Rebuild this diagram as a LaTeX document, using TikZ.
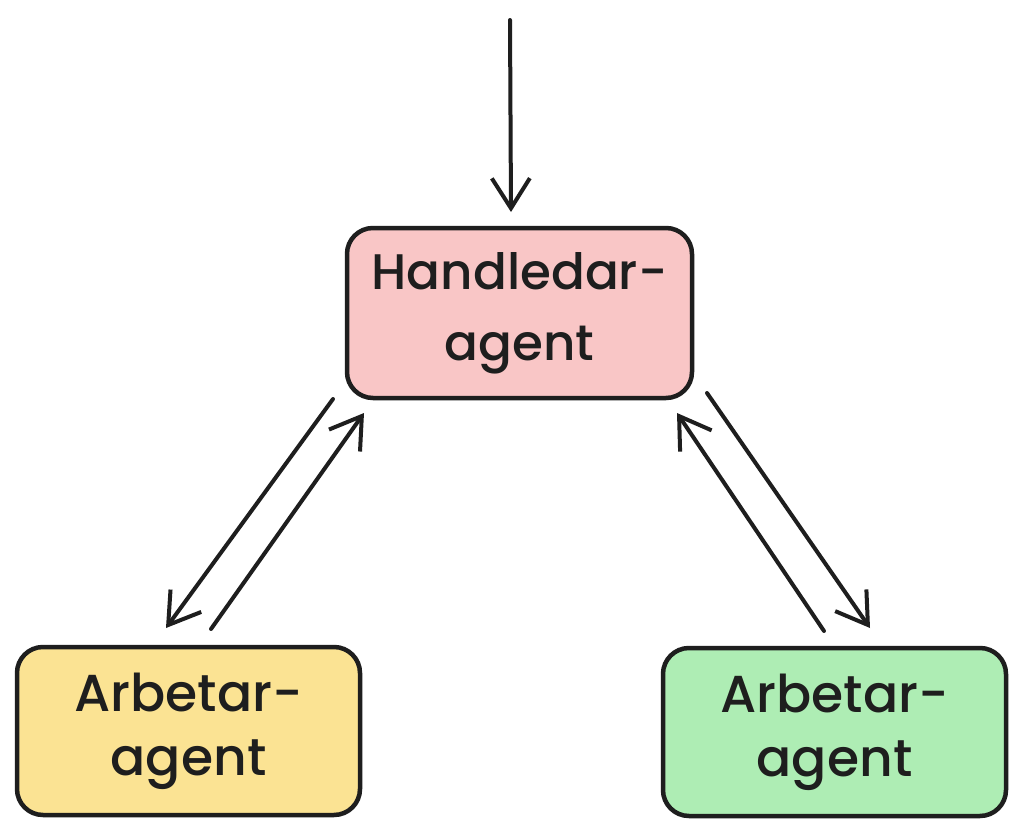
\documentclass[tikz,border=0pt]{standalone}
\usepackage{fontspec}
\setmainfont{Poppins Medium}
\usetikzlibrary{arrows.meta}
\definecolor{pinkfill}{HTML}{F9C6C6}
\definecolor{yellowfill}{HTML}{FBE393}
\definecolor{greenfill}{HTML}{AEEDB4}
\definecolor{ink}{HTML}{1E1E1E}
\tikzset{
  agentbox/.style={draw=ink, line width=4.5pt, rounded corners=26pt, align=center,
    inner sep=0pt, text=ink},
  conn/.style={draw=ink, line width=4pt, line cap=round,
    -{Straight Barb[length=30pt,width=38pt,line width=4pt]}}
}
\begin{document}
\begin{tikzpicture}[x=1pt,y=-1pt]
\useasboundingbox (0,0) rectangle (1023,838);
\fill[white] (0,0) rectangle (1023,838);
\node[agentbox, fill=pinkfill, minimum width=345pt, minimum height=170pt,
  font=\fontsize{50}{71}\selectfont] (h) at (519.5,313) {Handledar-\\agent};
\node[agentbox, fill=yellowfill, minimum width=343pt, minimum height=168pt,
  font=\fontsize{52}{64}\selectfont] (a1) at (188.5,731) {Arbetar-\\agent};
\node[agentbox, fill=greenfill, minimum width=343pt, minimum height=168pt,
  font=\fontsize{52}{64}\selectfont] (a2) at (834.5,732) {Arbetar-\\agent};
\coordinate (in) at (510,20);
\coordinate (hs) at (511,212);
\coordinate (l1s) at (333,399);
\coordinate (l1e) at (166,628);
\coordinate (l2s) at (211,629);
\coordinate (l2e) at (364,413);
\coordinate (r1s) at (824,631);
\coordinate (r1e) at (677,413);
\coordinate (r2s) at (707,393);
\coordinate (r2e) at (870,628);
\draw[conn] (in) -- (hs);
\draw[conn] (l1s) -- (l1e);
\draw[conn] (l2s) -- (l2e);
\draw[conn] (r1s) -- (r1e);
\draw[conn] (r2s) -- (r2e);
\end{tikzpicture}
\end{document}
